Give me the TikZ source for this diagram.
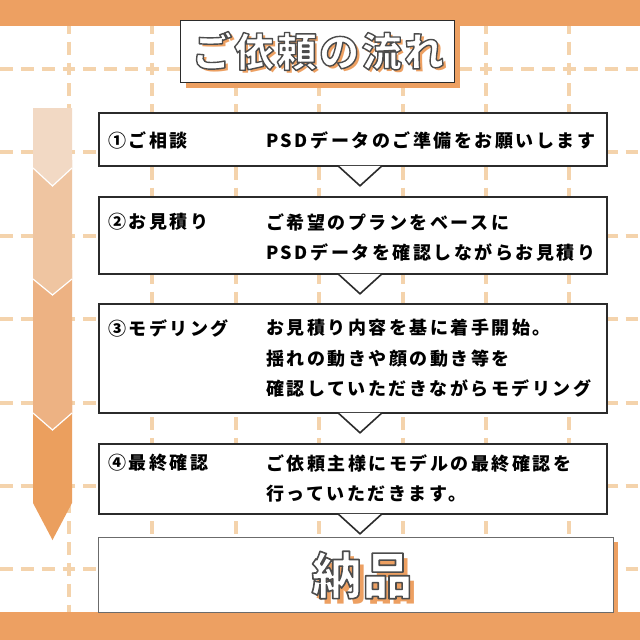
\documentclass[tikz,border=0pt]{standalone}
\usepackage{fontspec}
\usetikzlibrary{positioning}
\newfontfamily\jpfont{Noto Sans CJK JP}
\definecolor{bandorange}{HTML}{EDA062}
\definecolor{gridline}{HTML}{F4D3AC}
\definecolor{seguno}{HTML}{F2D9C4}
\definecolor{segdue}{HTML}{EFC5A1}
\definecolor{segtre}{HTML}{EDB283}
\definecolor{segquattro}{HTML}{EB9F5E}
\definecolor{boxline}{HTML}{2B2B2B}
% testo bianco con contorno scuro
\newcommand{\outlined}[2]{{\color{white}\special{pdf:literal direct 0.3 0.3 0.3 RG #1 w 1 j 2 Tr}#2\special{pdf:literal direct 0 Tr}}}

\begin{document}
\begin{tikzpicture}[
    x=1pt, y=-1pt,
    % Stili
    gridstroke/.style={
        draw=gridline, line width=4pt,
        dash pattern=on 12.9pt off 7.95pt
    },
    stepbox/.style={
        rectangle, draw=boxline, line width=1.6pt, fill=white,
        minimum width=508pt, inner sep=0pt
    },
    notch/.style={draw=boxline, line width=1.6pt, fill=white},
    steplabel/.style={
        font=\jpfont\bfseries\fontsize{18}{30.5}\selectfont\addfontfeature{LetterSpace=14},
        anchor=north west, inner sep=0pt
    },
    stepbody/.style={
        font=\jpfont\bfseries\fontsize{18}{30.5}\selectfont\addfontfeature{LetterSpace=14},
        align=left, anchor=north west, inner sep=0pt
    },
    titlefont/.style={font=\jpfont\bfseries\fontsize{40}{42}\selectfont\addfontfeature{LetterSpace=6}},
    bigfont/.style={font=\jpfont\bfseries\fontsize{50}{52}\selectfont\addfontfeature{LetterSpace=2}},
    sep/.style={draw=white, line width=1.2pt}
]
\useasboundingbox (0,0) rectangle (640,640);
\fill[white] (0,0) rectangle (640,640);

% Griglia
\begin{scope}
\clip (0,26) rectangle (640,612);
\foreach \k in {0,...,6} {
    \draw[gridstroke] (-20.85,{69+83.4*\k}) -- (660,{69+83.4*\k});
    \draw[gridstroke] ({69+83.4*\k},-20.85) -- ({69+83.4*\k},660);
}
\end{scope}

% Bande
\fill[bandorange] (0,0) rectangle (640,26);
\fill[bandorange] (0,612) rectangle (640,640);

% Freccia laterale
\fill[segquattro] (33,400) -- (72,400) -- (72,503) -- (52.5,540) -- (33,503) -- cycle;
\fill[segtre] (33,270) -- (72,270) -- (72,413) -- (52.5,430) -- (33,413) -- cycle;
\fill[segdue] (33,160) -- (72,160) -- (72,279) -- (52.5,295) -- (33,279) -- cycle;
\fill[seguno] (33,108) -- (72,108) -- (72,168) -- (52.5,186) -- (33,168) -- cycle;
\draw[sep] (33,168) -- (52.5,186) -- (72,168);
\draw[sep] (33,279) -- (52.5,295) -- (72,279);
\draw[sep] (33,413) -- (52.5,430) -- (72,413);

% Titolo
\fill[bandorange] (186,26) rectangle (460,88);
\node[rectangle, draw=boxline, line width=1pt, fill=white,
      minimum width=274pt, minimum height=62pt] (titlebox) at (317,51) {};
\node[titlefont, text=bandorange] (titleshadow) at (321,54) {ご依頼の流れ};
\node[titlefont] (title) at (318,51) {\outlined{1.4}{ご依頼の流れ}};

% Passi
\node[stepbox, minimum height=53pt] (consult) at (353,139.5) {};
\draw[notch] ([xshift=-15pt,yshift=1pt]consult.south) -- ++(22,20) -- ++(22,-20);
\node[steplabel] (consultlbl) at (108,131) {①ご相談};
\node[stepbody] (consulttxt) at (266,131) {PSDデータのご準備をお願いします};

\node[stepbox, minimum height=77pt] (estimate) at (353,235.5) {};
\draw[notch] ([xshift=-15pt,yshift=1pt]estimate.south) -- ++(22,20) -- ++(22,-20);
\node[steplabel] (estimatelbl) at (108,213) {②お見積り};
\node[stepbody] (estimatetxt) at (266,213) {ご希望のプランをベースに\\PSDデータを確認しながらお見積り};

\node[stepbox, minimum height=109pt] (modeling) at (353,358.5) {};
\draw[notch] ([xshift=-15pt,yshift=1pt]modeling.south) -- ++(22,20) -- ++(22,-20);
\node[steplabel] (modelinglbl) at (108,319) {③モデリング};
\node[stepbody] (modelingtxt) at (266,319) {お見積り内容を基に着手開始。\\揺れの動きや顔の動き等を\\確認していただきながらモデリング};

\node[stepbox, minimum height=70pt] (check) at (353,479) {};
\draw[notch] ([xshift=-15pt,yshift=1pt]check.south) -- ++(22,20) -- ++(22,-20);
\node[steplabel] (checklbl) at (108,454) {④最終確認};
\node[stepbody] (checktxt) at (266,454) {ご依頼主様にモデルの最終確認を\\行っていただきます。};

% Consegna
\fill[bandorange] (103,542) rectangle (618,612);
\node[rectangle, draw=boxline!70, line width=1pt, fill=white,
      minimum width=515pt, minimum height=75pt] (delivery) at (355.5,574.5) {};
\node[bigfont, text=bandorange] (deliveryshadow) at (367,580) {納品};
\node[bigfont] (deliverytxt) at (362,575) {\outlined{1.6}{納品}};

\end{tikzpicture}
\end{document}
